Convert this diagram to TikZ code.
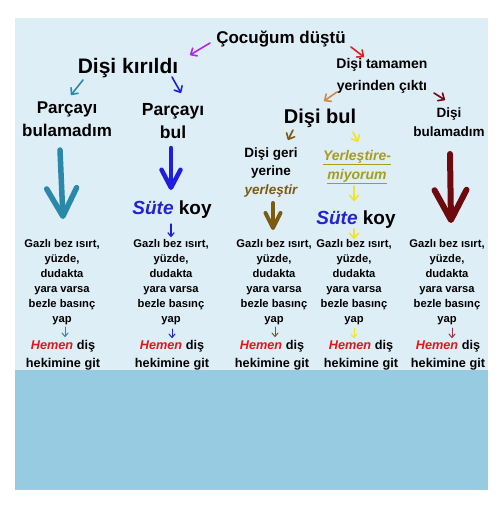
\documentclass[tikz,border=0pt]{standalone}
\usepackage{fontspec}
\setmainfont{Liberation Sans}
\usetikzlibrary{arrows.meta}
\definecolor{bglight}{HTML}{DDEEF7}
\definecolor{bgdark}{HTML}{96CBE2}
\definecolor{cpurple}{HTML}{B025E8}
\definecolor{cred}{HTML}{E02020}
\definecolor{cteal}{HTML}{2A88A8}
\definecolor{cblue}{HTML}{1E1EDC}
\definecolor{ctan}{HTML}{D08A40}
\definecolor{cmaroon}{HTML}{6E0A0E}
\definecolor{cpink}{HTML}{9A3048}
\definecolor{colive}{HTML}{7B5B12}
\definecolor{cyellow}{HTML}{F2E22A}
\definecolor{cyerl}{HTML}{A89C1C}
\definecolor{csute}{HTML}{2424CC}
\definecolor{chemen}{HTML}{E01818}
\begin{document}
\begin{tikzpicture}[x=1pt,y=-1pt,
  lbl/.style={inner sep=0pt, anchor=base, align=center},
  fs/.style 2 args={font=\fontsize{#1}{#2}\selectfont\bfseries},
  thinarrow/.style={line width=1.6pt, line cap=round, -{Straight Barb[length=5pt,width=9pt,round]}},
  tinyarrow/.style={line width=1pt, line cap=round, -{Straight Barb[length=3.5pt,width=6pt,round]}},
  bigarrow/.style n args={4}{line width=#1, line cap=round, -{Straight Barb[length=#2,width=#3,round]}, draw=#4}
]
\useasboundingbox (0,0) rectangle (502,506);
\fill[bglight] (15,18) rectangle (488,370);
\fill[bgdark] (15,370) rectangle (488,490);

% (multi-line nodes: anchor base = baseline of the last line)
% top level
\node[lbl, fs={17}{20}] (title) at (281,43) {Çocuğum düştü};
\node[lbl, fs={21}{25}] (kirildi) at (128,73) {Dişi kırıldı};
\node[lbl, fs={14}{22}] (tamamen) at (382,90) {Dişi tamamen\\yerinden çıktı};

% second level
\node[lbl, fs={17}{23}] (parc1) at (67,136) {Parçayı\\bulamadım};
\node[lbl, fs={17.5}{23}] (parc2) at (173,138) {Parçayı\\bul};
\node[lbl, fs={20}{24}] (disibul) at (320,123) {Dişi bul};
\node[lbl, fs={13.5}{19}] (disibulamadim) at (449,136) {Dişi\\bulamadım};

% third level
\node[lbl, fs={13.5}{18.5}] (geri) at (271,194) {Dişi geri\\yerine\\{\color{colive}\itshape yerleştir}};
\node[lbl, fs={14}{19}, text=cyerl] (yerl) at (357,179) {\itshape\underline{Yerleştire-}\\\itshape\underline{miyorum}};
\node[lbl, fs={19}{22}] (sute2) at (172,214) {{\color{csute}\itshape Süte} koy};
\node[lbl, fs={19}{22}] (sute4) at (356,224) {{\color{csute}\itshape Süte} koy};

% first-aid blocks
\foreach \n/\x in {1/62,2/171,3/274,4/354,5/447}{
  \node[lbl, fs={11.2}{15}] (gazli\n) at (\x,322) {Gazlı bez ısırt,\\yüzde,\\dudakta\\yara varsa\\bezle basınç\\yap};
}
\foreach \n/\x in {1/63,2/172,3/272,4/361,5/448}{
  \node[lbl, fs={12.7}{18}] (hemen\n) at (\x,367) {{\color{chemen}\itshape Hemen} diş\\hekimine git};
}

% arrow end points
\coordinate (a1s) at (210,43);  \coordinate (a1e) at (190,55);
\coordinate (a2s) at (351,47);  \coordinate (a2e) at (364,57);
\coordinate (a3s) at (83,80);   \coordinate (a3e) at (71,95);
\coordinate (a4s) at (172,77);  \coordinate (a4e) at (181,93);
\coordinate (a5s) at (337,92);  \coordinate (a5e) at (324,101);
\coordinate (a6s) at (434,93);  \coordinate (a6e) at (445,100);
\coordinate (a7s) at (293,130); \coordinate (a7e) at (288,140);
\coordinate (a8s) at (353,132); \coordinate (a8e) at (358,142);
\coordinate (a9s) at (354,186); \coordinate (a9e) at (354,201);
\coordinate (a10s) at (354,229); \coordinate (a10e) at (354,239);
\coordinate (a11s) at (171,224); \coordinate (a11e) at (171,237);

\coordinate (b1s) at (60,150);  \coordinate (b1e) at (63,219);
\coordinate (b2s) at (171,148); \coordinate (b2e) at (171,190);
\coordinate (b3s) at (273,203); \coordinate (b3e) at (273,230);
\coordinate (b4s) at (450,154); \coordinate (b4e) at (451,223);

\coordinate (c1s) at (65,327);  \coordinate (c1e) at (65,337);
\coordinate (c2s) at (172,329); \coordinate (c2e) at (172,338);
\coordinate (c3s) at (275,327); \coordinate (c3e) at (275,337);
\coordinate (c4s) at (354,328); \coordinate (c4e) at (354,338);
\coordinate (c5s) at (452,328); \coordinate (c5e) at (452,338);

% thin arrows
\draw[thinarrow, cpurple] (a1s) -- (a1e);
\draw[thinarrow, cred] (a2s) -- (a2e);
\draw[thinarrow, cteal] (a3s) -- (a3e);
\draw[thinarrow, cblue] (a4s) -- (a4e);
\draw[thinarrow, ctan] (a5s) -- (a5e);
\draw[thinarrow, cmaroon] (a6s) -- (a6e);
\draw[thinarrow, colive] (a7s) -- (a7e);
\draw[thinarrow, cyellow] (a8s) -- (a8e);
\draw[thinarrow, cyellow] (a9s) -- (a9e);
\draw[thinarrow, cyellow] (a10s) -- (a10e);
\draw[tinyarrow, line width=1.3pt, cblue] (a11s) -- (a11e);

% big arrows
\draw[bigarrow={5.5pt}{28pt}{30pt}{cteal}] (b1s) -- (b1e);
\draw[bigarrow={4.5pt}{18pt}{19pt}{cblue}] (b2s) -- (b2e);
\draw[bigarrow={4pt}{15pt}{15pt}{colive}] (b3s) -- (b3e);
\draw[bigarrow={6pt}{30pt}{32pt}{cmaroon}] (b4s) -- (b4e);

% small bottom arrows
\draw[tinyarrow, cteal] (c1s) -- (c1e);
\draw[tinyarrow, cblue] (c2s) -- (c2e);
\draw[tinyarrow, colive] (c3s) -- (c3e);
\draw[tinyarrow, cyellow] (c4s) -- (c4e);
\draw[tinyarrow, cpink] (c5s) -- (c5e);
\end{tikzpicture}
\end{document}
